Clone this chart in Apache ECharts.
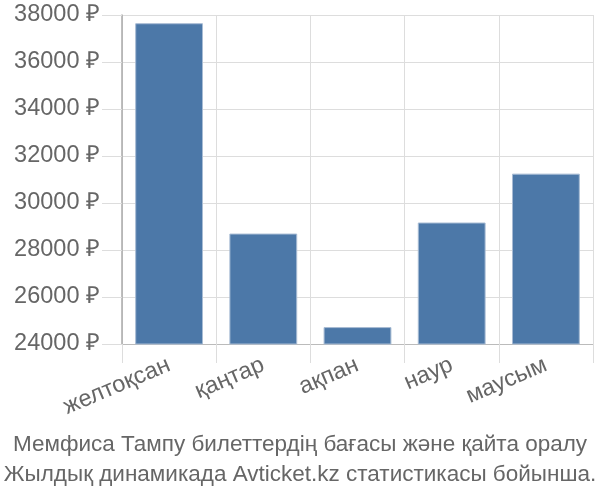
<!DOCTYPE html>
<html><head><meta charset="utf-8">
<script src="https://cdn.jsdelivr.net/npm/echarts@6/dist/echarts.min.js"></script>
<style>html,body{margin:0;padding:0;background:#fff}#c{width:600px;height:500px}</style>
</head><body><div id="c"></div>
<script>
var categories = ["желтоқсан", "қаңтар", "ақпан", "наур", "маусым"];
var prices = [37650, 28700, 24720, 29170, 31250];
var yTicks = [24000, 26000, 28000, 30000, 32000, 34000, 36000, 38000];
var titleLines = ["Мемфиса Тампу билеттердің бағасы және қайта оралу", "Жылдық динамикада Avticket.kz статистикасы бойынша."];

var FONT = 'Liberation Sans, Arial, sans-serif';
var chart = echarts.init(document.getElementById('c'), null, {renderer: 'canvas'});
chart.setOption({
  animation: false,
  textStyle: {fontFamily: FONT},
  title: {
    text: titleLines.join('\n'),
    left: 'center', bottom: 5,
    textStyle: {fontSize: 22.5, fontWeight: 'normal', color: '#666', lineHeight: 30, fontFamily: FONT}
  },
  grid: {left: 122, right: 7, top: 15, bottom: 156, containLabel: false},
  xAxis: {
    type: 'category', data: categories,
    axisLine: {show: true, lineStyle: {color: '#bbb', width: 1}},
    axisTick: {show: true, length: 19, lineStyle: {color: '#ddd'}},
    splitLine: {show: true, lineStyle: {color: '#ddd'}},
    axisLabel: {rotate: 23, fontSize: 23.5, color: '#666', margin: 20, interval: 0, fontFamily: FONT}
  },
  yAxis: {
    type: 'value', min: yTicks[0], max: yTicks[yTicks.length - 1], interval: 2000,
    axisLine: {show: true, lineStyle: {color: '#aaa', width: 1.5}},
    axisTick: {show: true, length: 20, lineStyle: {color: '#ddd'}},
    splitLine: {show: true, lineStyle: {color: '#ddd'}},
    axisLabel: {fontSize: 23.5, color: '#666', margin: 22, formatter: function (v) { return v + ' ₽'; }, fontFamily: FONT}
  },
  series: [{
    type: 'bar', data: prices, barCategoryGap: '28%',
    itemStyle: {color: '#4c78a8', borderColor: '#a8bcd4', borderWidth: 1}
  }]
});
</script></body></html>
